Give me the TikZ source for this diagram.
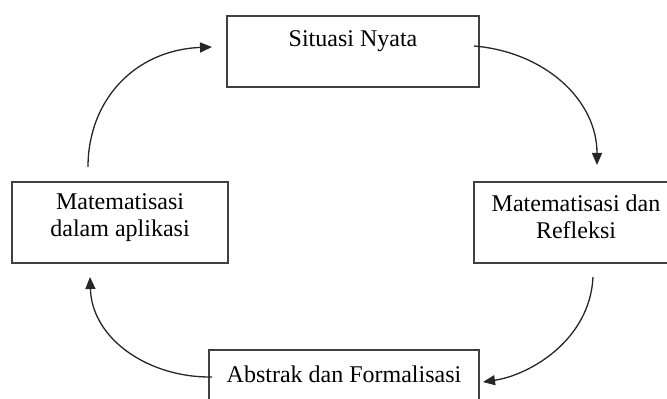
\documentclass[tikz,border=0pt]{standalone}
\usepackage{fontspec}
\setmainfont{Liberation Serif}
\usetikzlibrary{arrows.meta}
\begin{document}
\begin{tikzpicture}[x=0.5pt,y=-0.5pt,
  box/.style={draw=black!75,line width=0.75pt,rectangle,inner sep=0pt},
  lbl/.style={align=center,font=\fontsize{12}{13.5}\selectfont,inner sep=0pt},
  flow/.style={draw=black!85,line width=0.65pt,-{Triangle[length=6pt,width=5pt]}}]
\useasboundingbox (0,0) rectangle (667,399);
\clip (0,0) rectangle (667,399);
% boxes
\node[box,minimum width=126pt,minimum height=35.5pt] (sit) at (353,51.5) {};
\node[lbl] (sitt) at (353,41) {Situasi Nyata};
\node[box,minimum width=102pt,minimum height=40.5pt] (ref) at (576,222.5) {};
\node[lbl] (reft) at (576,217) {Matematisasi dan\\Refleksi};
\node[box,minimum width=108pt,minimum height=40.5pt] (apl) at (120,222.5) {};
\node[lbl] (aplt) at (120,218) {Matematisasi\\dalam aplikasi};
\node[box,minimum width=135pt,minimum height=40pt] (abs) at (344,390) {};
\node[lbl] (abst) at (344,374) {Abstrak dan Formalisasi};
% connector endpoints
\coordinate (a1s) at (88,167);
\coordinate (a1e) at (212,47);
\coordinate (a2s) at (474,46);
\coordinate (a2e) at (597,165);
\coordinate (a3s) at (593,277);
\coordinate (a3e) at (483,382);
\coordinate (a4s) at (212,377);
\coordinate (a4e) at (90,277);
\draw[flow] (a1s) .. controls (88,100) and (135,50) .. (a1e);
\draw[flow] (a2s) .. controls (545,52) and (597,100) .. (a2e);
\draw[flow] (a3s) .. controls (590,340) and (530,375) .. (a3e);
\draw[flow] (a4s) .. controls (150,378) and (92,340) .. (a4e);
\end{tikzpicture}
\end{document}
